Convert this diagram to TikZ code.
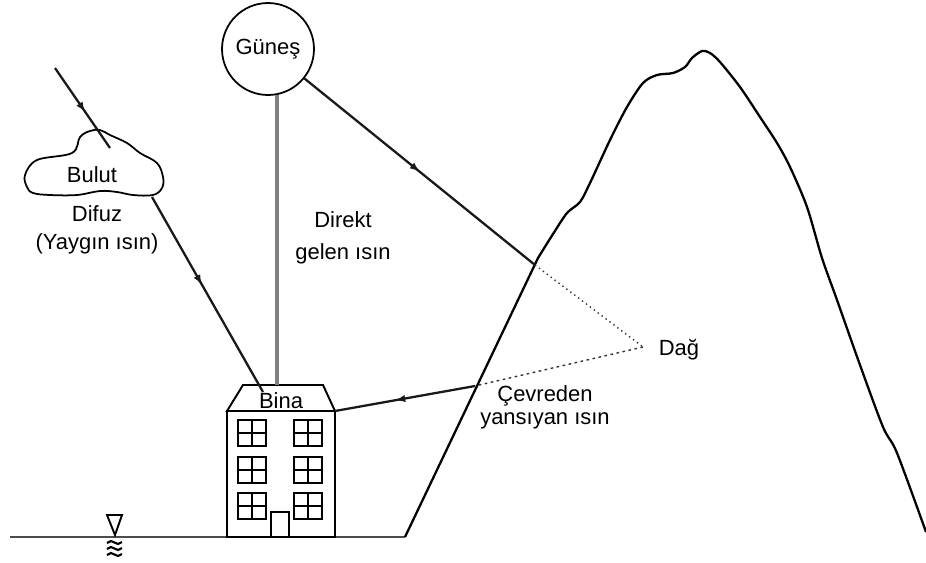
\documentclass[tikz,border=0pt]{standalone}
\usepackage{fontspec}
\setmainfont{Liberation Sans}
\usetikzlibrary{arrows.meta,decorations.markings}

\begin{document}
\begin{tikzpicture}[
  x=0.02cm, y=-0.02cm,
  lbl/.style={font=\fontsize{12.5}{15}\selectfont, align=center, inner sep=0pt},
  ray/.style={line width=1.3pt, black!90},
  thin/.style={line width=0.8pt, black!80},
  mid/.style={postaction={decorate}, decoration={markings,
      mark=at position #1 with {\arrow{Latex[length=2mm,width=1.5mm]}}}}
]
\useasboundingbox (0,0) rectangle (926,562);

\node[circle, draw, line width=1pt, minimum size=1.84cm, inner sep=0pt,
      lbl] (sun) at (268,49) {Güneş};

\draw[line width=1pt] plot[smooth cycle, tension=0.6] coordinates {
  (25,175) (37,160) (72,153) (80,137) (90,131) (100,130) (110,135)
  (127,143) (140,153) (157,163) (163,177) (162,188) (153,195) (133,195)
  (117,192) (100,191) (77,195) (50,195) (33,193) (27,187)};
\node[lbl] (bulut) at (92,175) {Bulut};

\draw[line width=1.3pt, black!70] (10,537) -- (405,537);
\draw[line width=1.1pt] (107,515) -- (122,515) -- (115,535) -- cycle;
\foreach \yy in {543,549,555}
  \draw[line width=1.2pt] (107,\yy) -- (111,\yy-2) -- (118,\yy+1) -- (122,\yy-1);

\draw[line width=1.1pt] (227,411) -- (243,385) -- (323,385) -- (335,411) -- cycle;
\draw[line width=1.1pt] (227,411) rectangle (335,537);
\foreach \xx in {238,294}
  \foreach \yy in {420,457,493} {
    \draw[line width=1.1pt] (\xx,\yy) rectangle (\xx+28,\yy+26);
    \draw[line width=1pt] (\xx+14,\yy) -- (\xx+14,\yy+26)
                          (\xx,\yy+13) -- (\xx+28,\yy+13);
  }
\draw[line width=1.1pt] (271,512) rectangle (289,537);
\node[lbl] (bina) at (281,401) {Bina};

\coordinate (skyray) at (55,68);
\coordinate (cloudin) at (110,148);
\coordinate (cloudout) at (152,197);
\coordinate (roofhit) at (263,392);
\coordinate (rooftop) at (277,385);
\coordinate (hit) at (535,265);
\coordinate (dagtip) at (643,347);
\coordinate (refl) at (475,386);
\coordinate (roofright) at (335,411);

\draw[line width=1.3pt]
  (405,537) -- (538,258) -- plot[smooth, tension=0.5] coordinates {
  (538,258) (553,234) (567,213) (580,202) (590,183) (610,140) (627,107)
  (643,83) (657,75) (673,73) (685,67) (692,58) (702,51) (710,53) (720,62)
  (740,87) (760,117) (777,143) (790,167) (807,207) (822,258) (837,300)
  (860,365) (883,427) (897,453) (926,532)};

\draw[ray, mid=0.55] (skyray) -- (cloudin);
\draw[ray, mid=0.45] (cloudout) -- (roofhit);
\draw[line width=1.8pt, black!50] (sun.-79) -- (sun.-79 |- rooftop);
\draw[ray, mid=0.5] (sun) -- (hit);
\draw[thin, dotted] (hit) -- (dagtip);
\draw[thin, dash pattern=on 1.5pt off 2pt] (dagtip) -- (refl);
\draw[ray, mid=0.57] (refl) -- (roofright);

\node[lbl] (difuz) at (97,230) {Difuz\\[1pt](Yaygın ısın)};
\node[lbl] (direkt) at (343,238) {Direkt\\[3pt]gelen ısın};
\node[lbl] (dag) at (679,350) {Dağ};
\node[lbl] (cevre) at (545,407) {Çevreden\\[-2pt]yansıyan ısın};
\end{tikzpicture}
\end{document}
